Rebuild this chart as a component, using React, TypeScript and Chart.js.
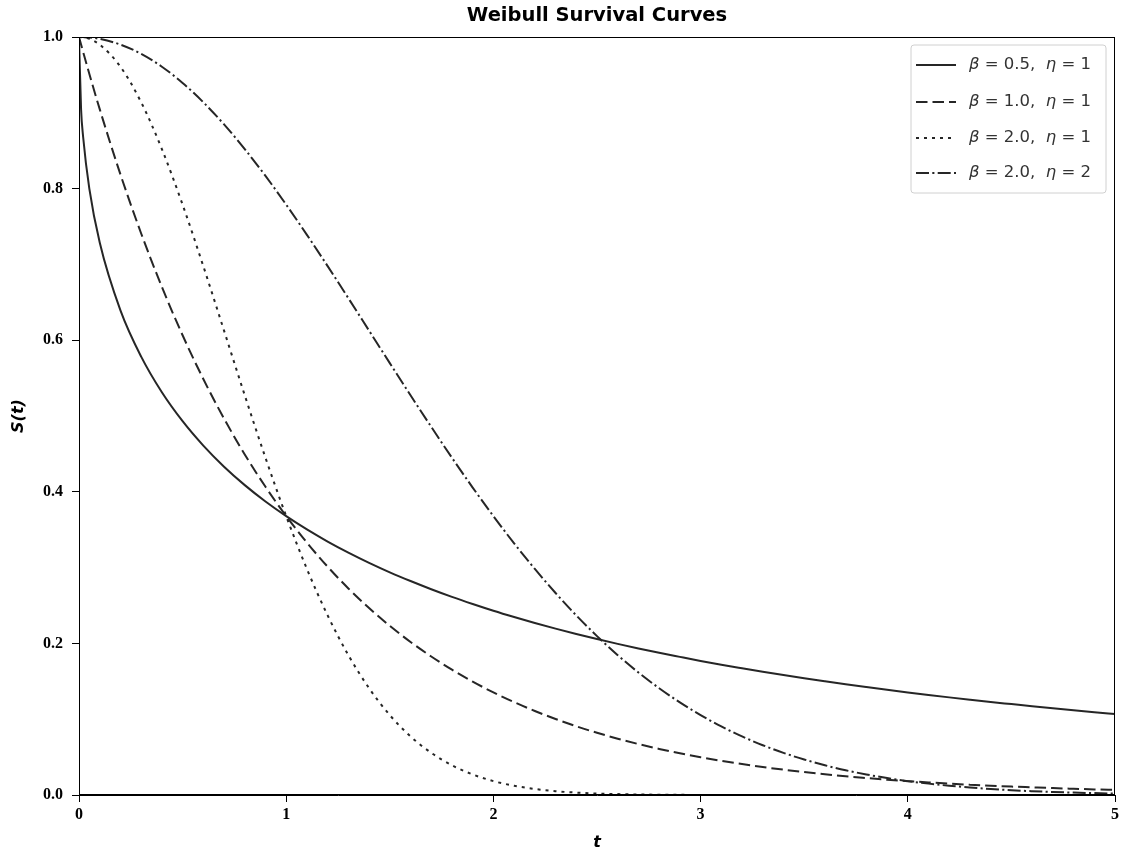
import { useEffect, useRef } from "react";
import { Chart, registerables } from "chart.js";

Chart.register(...registerables);

const T = [0, 0.01, 0.02, 0.05, 0.1, 0.2, 0.3, 0.4, 0.5, 0.6, 0.7, 0.8, 0.9, 1.0, 1.1, 1.2, 1.3, 1.4, 1.5, 1.6, 1.7, 1.8, 1.9, 2.0, 2.1, 2.2, 2.3, 2.4, 2.5, 2.6, 2.7, 2.8, 2.9, 3.0, 3.1, 3.2, 3.3, 3.4, 3.5, 3.6, 3.7, 3.8, 3.9, 4.0, 4.1, 4.2, 4.3, 4.4, 4.5, 4.6, 4.7, 4.8, 4.9, 5.0];

const S_B05_E1 = [1, 0.9048, 0.8681, 0.7997, 0.7289, 0.6394, 0.5783, 0.5313, 0.4931, 0.4609, 0.4331, 0.4088, 0.3872, 0.3679, 0.3504, 0.3344, 0.3198, 0.3063, 0.2938, 0.2823, 0.2715, 0.2614, 0.2520, 0.2431, 0.2348, 0.2269, 0.2195, 0.2124, 0.2057, 0.1994, 0.1934, 0.1876, 0.1822, 0.1769, 0.1719, 0.1672, 0.1626, 0.1582, 0.1540, 0.1500, 0.1461, 0.1424, 0.1388, 0.1353, 0.1320, 0.1288, 0.1257, 0.1227, 0.1199, 0.1171, 0.1144, 0.1118, 0.1093, 0.1069];

const S_B10_E1 = [1, 0.99, 0.9802, 0.9512, 0.9048, 0.8187, 0.7408, 0.6703, 0.6065, 0.5488, 0.4966, 0.4493, 0.4066, 0.3679, 0.3329, 0.3012, 0.2725, 0.2466, 0.2231, 0.2019, 0.1827, 0.1653, 0.1496, 0.1353, 0.1225, 0.1108, 0.1003, 0.0907, 0.0821, 0.0743, 0.0672, 0.0608, 0.055, 0.0498, 0.045, 0.0408, 0.0369, 0.0334, 0.0302, 0.0273, 0.0247, 0.0224, 0.0202, 0.0183, 0.0166, 0.015, 0.0136, 0.0123, 0.0111, 0.0101, 0.0091, 0.0082, 0.0074, 0.0067];

const S_B20_E1 = [1, 0.9999, 0.9996, 0.9975, 0.99, 0.9608, 0.9139, 0.8521, 0.7788, 0.6977, 0.6126, 0.5273, 0.4449, 0.3679, 0.2982, 0.2369, 0.1845, 0.1409, 0.1054, 0.0773, 0.0556, 0.0392, 0.0271, 0.0183, 0.0122, 0.0079, 0.005, 0.0032, 0.0019, 0.0012, 0.0007, 0.0004, 0.0002, 0.0001, 0, 0, 0, 0, 0, 0, 0, 0, 0, 0, 0, 0, 0, 0, 0, 0, 0, 0, 0, 0];

const S_B20_E2 = [1, 1, 0.9999, 0.9994, 0.9975, 0.99, 0.9778, 0.9608, 0.9394, 0.9139, 0.8847, 0.8521, 0.8167, 0.7788, 0.739, 0.6977, 0.6554, 0.6126, 0.5698, 0.5273, 0.4857, 0.4449, 0.4056, 0.3679, 0.332, 0.2982, 0.2665, 0.2369, 0.2096, 0.1845, 0.1616, 0.1409, 0.1222, 0.1054, 0.0904, 0.0773, 0.0657, 0.0556, 0.0468, 0.0392, 0.0326, 0.0271, 0.0223, 0.0183, 0.015, 0.0122, 0.0099, 0.0079, 0.0063, 0.005, 0.004, 0.0032, 0.0025, 0.0019];

const BETAS = ["0.5", "1.0", "2.0", "2.0"];
const ETAS = ["1", "1", "1", "2"];
const SERIES = [S_B05_E1, S_B10_E1, S_B20_E1, S_B20_E2];
const DASHES: number[][] = [[], [11.5, 5], [3, 5], [13, 3.3, 2.1, 3.3]];

const X_TICKS = [0, 1, 2, 3, 4, 5];
const Y_TICKS = [0, 0.2, 0.4, 0.6, 0.8, 1.0];

const TITLE = "Weibull Survival Curves";
const X_LABEL = "t";
const Y_LABEL = "S(t)";

const LINE_COLOR = "#262626";

const decorPlugin = {
  id: "decor",
  afterDraw(chart: any) {
    const ctx = chart.ctx as CanvasRenderingContext2D;
    const a = chart.chartArea;
    ctx.save();
    // frame
    ctx.strokeStyle = "#000";
    ctx.lineWidth = 1;
    ctx.setLineDash([]);
    ctx.strokeRect(Math.round(a.left) + 0.5, Math.round(a.top) + 0.5, Math.round(a.right - a.left) - 1, Math.round(a.bottom - a.top) - 1);

    // title
    ctx.fillStyle = "#000";
    ctx.textAlign = "center";
    ctx.textBaseline = "middle";
    ctx.font = "bold 19.5px 'DejaVu Sans'";
    ctx.fillText(TITLE, (a.left + a.right) / 2, 16);

    // x label
    ctx.font = "italic bold 16px 'DejaVu Sans'";
    ctx.fillText(X_LABEL, (a.left + a.right) / 2, 843);

    // y label
    ctx.save();
    ctx.translate(19, (a.top + a.bottom) / 2);
    ctx.rotate(-Math.PI / 2);
    ctx.fillText(Y_LABEL, 0, 0);
    ctx.restore();

    // legend
    const lx = 911, ly = 45, lw = 195, lh = 148;
    ctx.beginPath();
    const r = 3;
    ctx.moveTo(lx + r, ly);
    ctx.lineTo(lx + lw - r, ly);
    ctx.arcTo(lx + lw, ly, lx + lw, ly + r, r);
    ctx.lineTo(lx + lw, ly + lh - r);
    ctx.arcTo(lx + lw, ly + lh, lx + lw - r, ly + lh, r);
    ctx.lineTo(lx + r, ly + lh);
    ctx.arcTo(lx, ly + lh, lx, ly + lh - r, r);
    ctx.lineTo(lx, ly + r);
    ctx.arcTo(lx, ly, lx + r, ly, r);
    ctx.closePath();
    ctx.fillStyle = "rgba(255,255,255,0.85)";
    ctx.fill();
    ctx.strokeStyle = "#d0d0d0";
    ctx.lineWidth = 1;
    ctx.stroke();

    const rows = [65, 102, 138, 173];
    chart.data.datasets.forEach((ds: any, i: number) => {
      const y = rows[i];
      ctx.beginPath();
      ctx.strokeStyle = ds.borderColor;
      ctx.lineWidth = ds.borderWidth;
      ctx.setLineDash(ds.borderDash || []);
      ctx.moveTo(916, y);
      ctx.lineTo(956, y);
      ctx.stroke();
      ctx.setLineDash([]);

      ctx.fillStyle = "#333";
      ctx.textAlign = "left";
      ctx.textBaseline = "middle";
      let x = 969;
      const parts: [string, string][] = [
        ["italic 16.5px 'DejaVu Sans'", "β"],
        ["16.5px 'DejaVu Sans'", " = " + BETAS[i] + ",  "],
        ["italic 16.5px 'DejaVu Sans'", "η"],
        ["16.5px 'DejaVu Sans'", " = " + ETAS[i]],
      ];
      for (const [f, s] of parts) {
        ctx.font = f;
        ctx.fillText(s, x, y);
        x += ctx.measureText(s).width;
      }
    });
    ctx.restore();
  },
};

export default function App() {
  const ref = useRef<HTMLCanvasElement | null>(null);
  useEffect(() => {
    if (!ref.current) return;
    const datasets = SERIES.map((s, i) => ({
      label: `β = ${BETAS[i]}, η = ${ETAS[i]}`,
      data: T.map((t, j) => ({ x: t, y: s[j] })),
      borderColor: LINE_COLOR,
      borderWidth: 2,
      borderDash: DASHES[i],
      pointRadius: 0,
      fill: false,
      cubicInterpolationMode: "monotone" as const,
    }));
    const tickFont = { family: "'Liberation Serif'", size: 16, weight: "bold" as const };
    const chart = new Chart(ref.current, {
      type: "line",
      data: { datasets },
      options: {
        animation: false,
        responsive: false,
        maintainAspectRatio: false,
        layout: { padding: { top: 37, right: 6, left: 0, bottom: 0 } },
        plugins: { legend: { display: false }, title: { display: false }, tooltip: { enabled: false } },
        scales: {
          x: {
            type: "linear",
            min: 0,
            max: 5,
            afterFit: (s: any) => { s.height = 59; s.paddingLeft = 0; s.paddingRight = 0; },
            afterBuildTicks: (s: any) => { s.ticks = X_TICKS.map((v) => ({ value: v })); },
            ticks: { color: "#000", font: tickFont, padding: 3, maxRotation: 0, callback: (v: any) => String(v) },
            grid: { drawOnChartArea: false, drawTicks: true, tickLength: 7, color: "#000", tickColor: "#000" },
            border: { display: true, color: "#000", width: 1 },
          },
          y: {
            type: "linear",
            min: 0,
            max: 1,
            afterFit: (s: any) => { s.width = 79; s.paddingTop = 0; s.paddingBottom = 0; },
            afterBuildTicks: (s: any) => { s.ticks = Y_TICKS.map((v) => ({ value: v })); },
            ticks: { color: "#000", font: tickFont, padding: 9, callback: (v: any) => Number(v).toFixed(1) },
            grid: { drawOnChartArea: false, drawTicks: true, tickLength: 7, color: "#000", tickColor: "#000" },
            border: { display: true, color: "#000", width: 1 },
          },
        },
      },
      plugins: [decorPlugin],
    });
    return () => chart.destroy();
  }, []);
  return (
    <div style={{ position: "absolute", left: 0, top: 0, width: 1121, height: 854, background: "#fff" }}>
      <canvas ref={ref} width={1121} height={854} style={{ width: 1121, height: 854, display: "block" }} />
    </div>
  );
}
